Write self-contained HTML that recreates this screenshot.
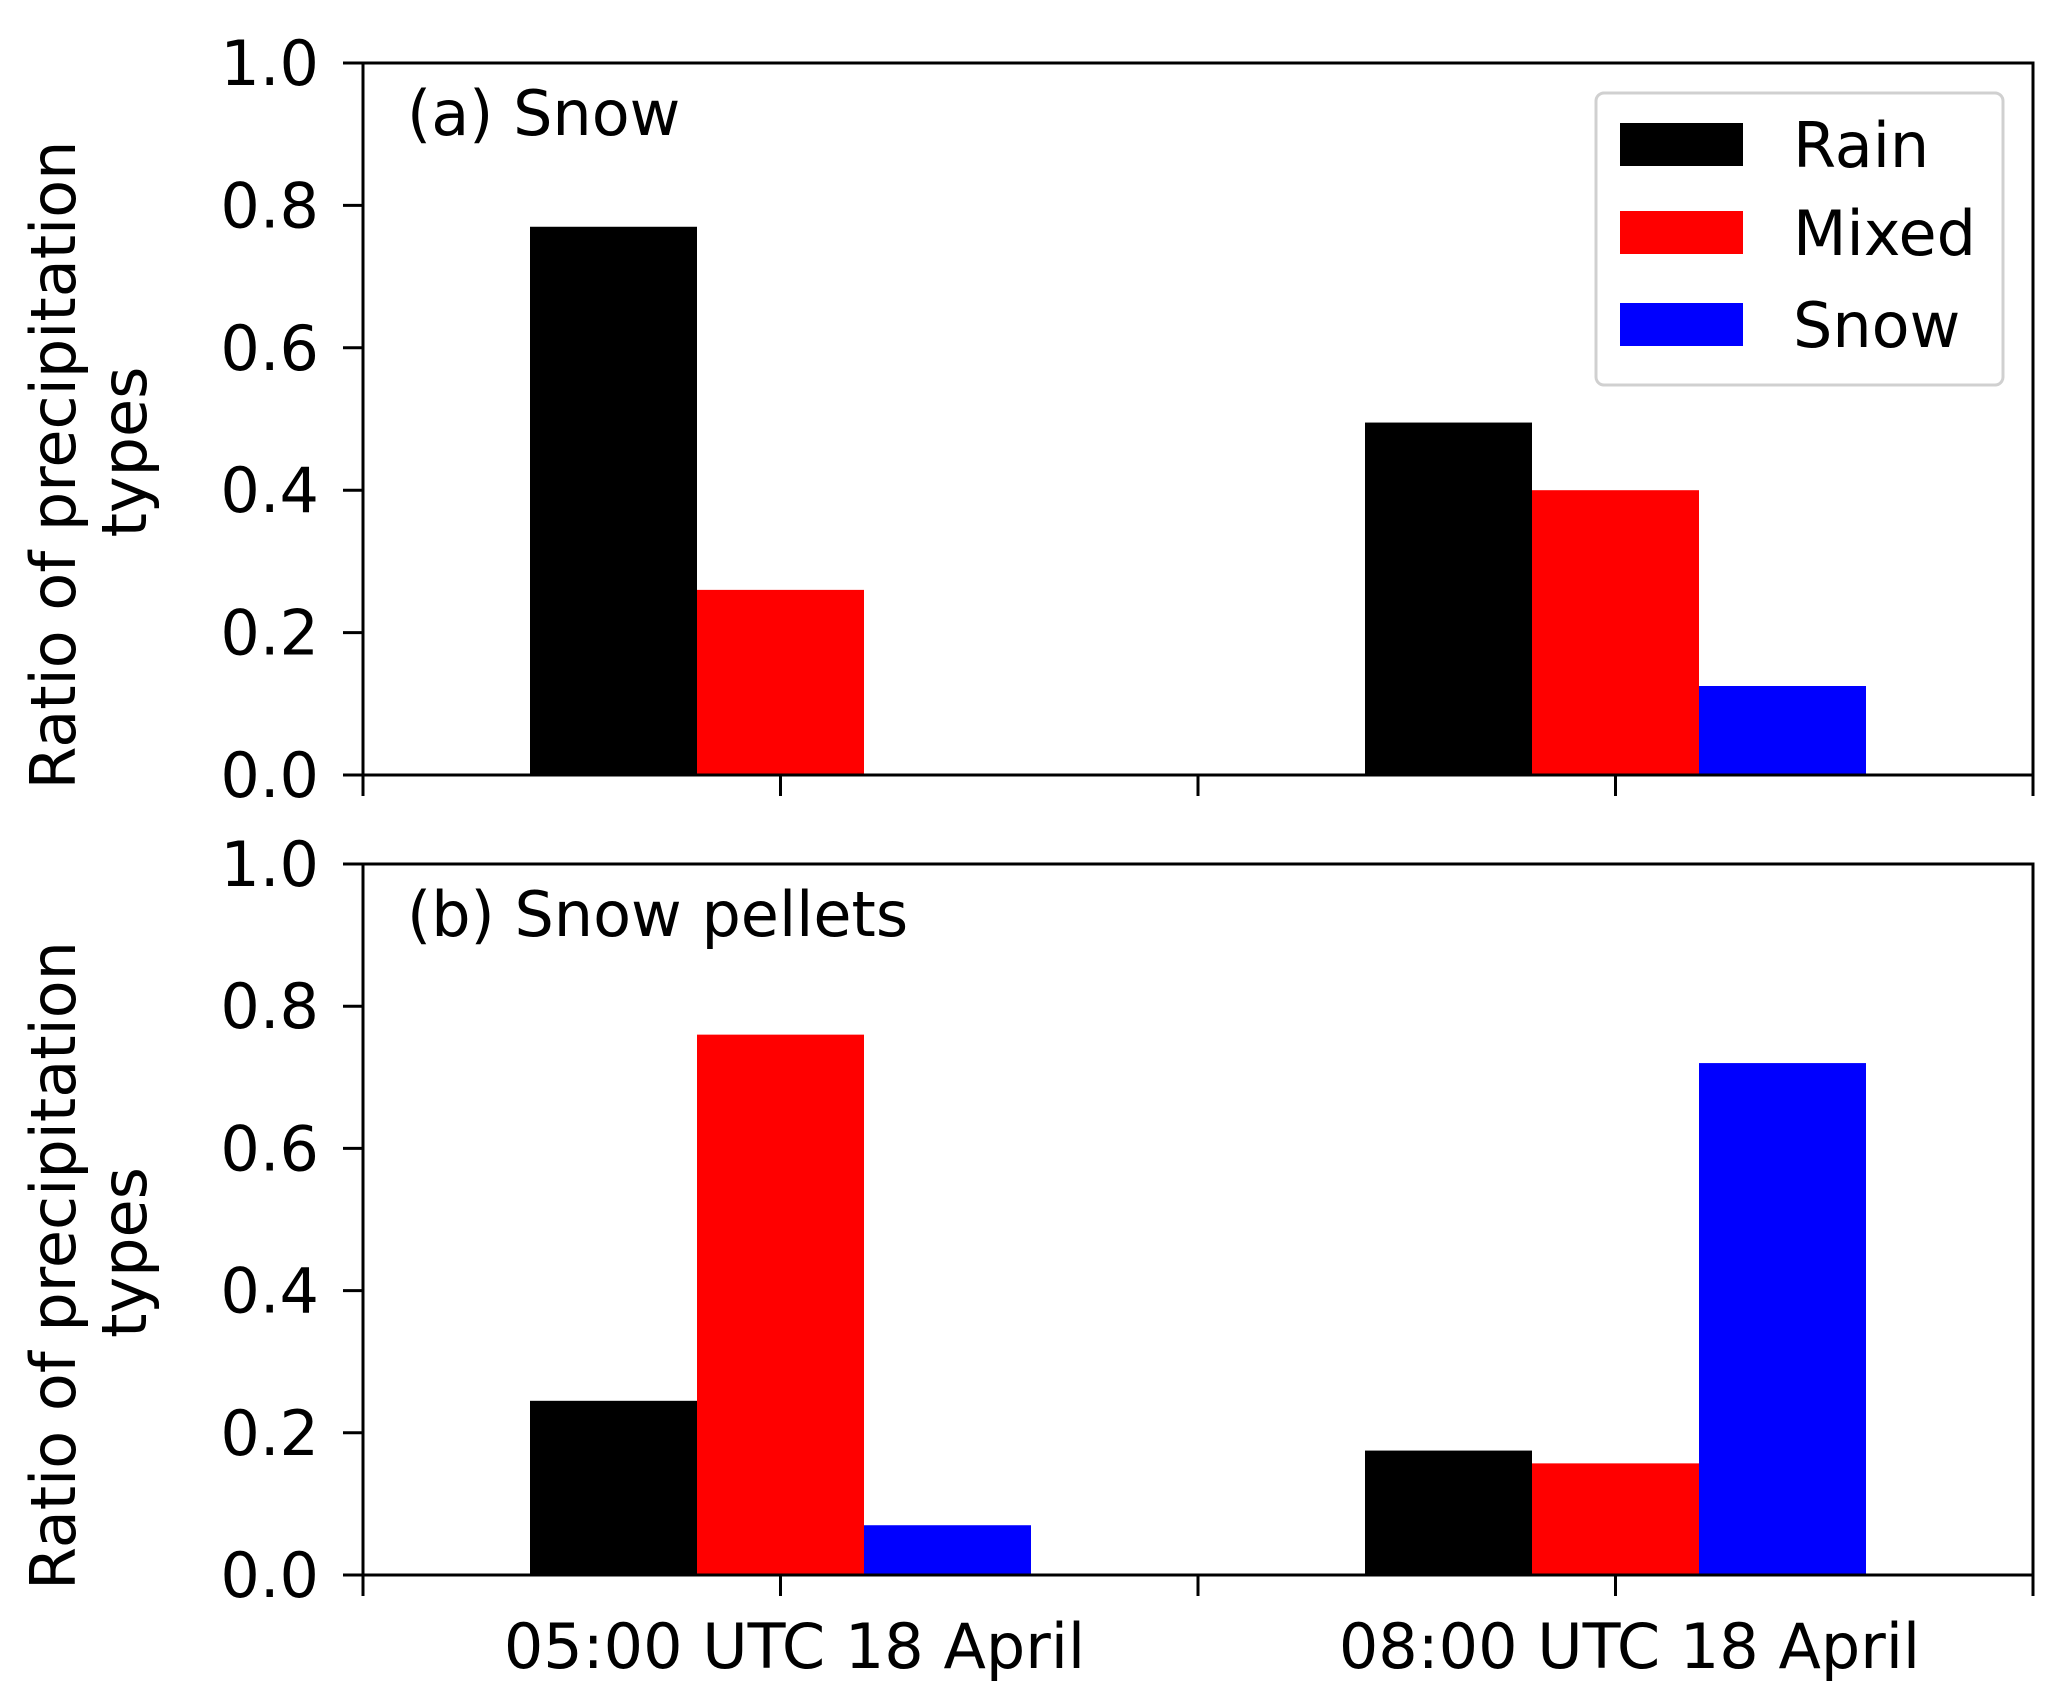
<!DOCTYPE html>
<html><head><meta charset="utf-8"><style>
html,body{margin:0;padding:0;background:#fff}
svg{display:block;font-family:"DejaVu Sans","Liberation Sans",sans-serif}
</style></head><body>
<svg id="chart" width="2067" height="1700" viewBox="0 0 2067 1700" xmlns="http://www.w3.org/2000/svg"></svg>
<script>
const categories = ["05:00 UTC 18 April", "08:00 UTC 18 April"];
const seriesNames = ["Rain", "Mixed", "Snow"];
const seriesColors = ["#000000", "#ff0000", "#0000ff"];
const snowRain = [0.77, 0.495];
const snowMixed = [0.26, 0.40];
const snowSnow = [0.0, 0.125];
const pelletsRain = [0.245, 0.175];
const pelletsMixed = [0.76, 0.157];
const pelletsSnow = [0.07, 0.72];
const yTicks = [0, 0.2, 0.4, 0.6, 0.8, 1.0];
const yTickLabels = ["0.0", "0.2", "0.4", "0.6", "0.8", "1.0"];
const xTicks = [-0.5, 0, 0.5, 1, 1.5];
const panelTitles = ["(a) Snow", "(b) Snow pellets"];

const NS = "http://www.w3.org/2000/svg";
const svg = document.getElementById("chart");
const L = 363, R = 2033;
const FS = 62;
const panels = [{top: 63, bottom: 775}, {top: 864, bottom: 1575}];
const xMin = -0.5, xMax = 1.5, barW = 0.2;
function xs(v){ return L + (v - xMin) / (xMax - xMin) * (R - L); }
function mk(tag, attrs, parent){
  const e = document.createElementNS(NS, tag);
  for (const k in attrs) e.setAttribute(k, attrs[k]);
  (parent || svg).appendChild(e);
  return e;
}
const panelData = [[snowRain, snowMixed, snowSnow], [pelletsRain, pelletsMixed, pelletsSnow]];

panels.forEach((p, pi) => {
  const ys = v => p.bottom - v * (p.bottom - p.top);
  const g = mk("g", {});
  
  
  panelData[pi].forEach((vals, si) => {
    vals.forEach((v, ci) => {
      const x0 = xs(ci + (si - 1) * barW - barW / 2);
      const x1 = xs(ci + (si - 1) * barW + barW / 2);
      const r = mk("rect", {x: x0, y: ys(v), width: x1 - x0, height: ys(0) - ys(v), fill: seriesColors[si]}, g);
      
      
    });
  });
  const fr = mk("rect", {x: L, y: p.top, width: R - L, height: p.bottom - p.top, fill: "none", stroke: "#000", "stroke-width": 3}, g);
  
  
  yTicks.forEach((t, i) => {
    mk("line", {x1: L - 20, x2: L, y1: ys(t), y2: ys(t), stroke: "#000", "stroke-width": 3}, g);
    const tx = mk("text", {x: 319, y: ys(t) + 22, "text-anchor": "end", "font-size": FS, fill: "#000"}, g);
    tx.textContent = yTickLabels[i];
    
    
  });
  xTicks.forEach(t => {
    mk("line", {x1: xs(t), x2: xs(t), y1: p.bottom, y2: p.bottom + 21, stroke: "#000", "stroke-width": 3}, g);
  });
  const ti = mk("text", {x: 407, y: p.top + 72, "font-size": FS, fill: "#000"}, g);
  ti.textContent = panelTitles[pi];
  
  
  const cy = (p.top + p.bottom) / 2 + 46;
  const yl = mk("text", {transform: "translate(75," + cy + ") rotate(-90)", "text-anchor": "middle", "font-size": FS, fill: "#000"}, g);
  yl.textContent = "Ratio of precipitation";
  
  
  const yl2 = mk("text", {transform: "translate(146," + (cy - 13) + ") rotate(-90)", "text-anchor": "middle", "font-size": FS, fill: "#000"}, g);
  yl2.textContent = "types";
  
  
});

categories.forEach((c, i) => {
  const t = mk("text", {x: xs(i) + 14, y: 1668, "text-anchor": "middle", "font-size": FS, fill: "#000"});
  t.textContent = c;
  
  
});

const lg = mk("g", {});


mk("rect", {x: 1596, y: 93, width: 407, height: 292, rx: 8, fill: "#fff", stroke: "#d0d0d0", "stroke-width": 3}, lg);
const legY = [123, 211, 303];
seriesNames.forEach((n, i) => {
  const r = mk("rect", {x: 1620, y: legY[i], width: 123, height: 43, fill: seriesColors[i]}, lg);
  
  
  const t = mk("text", {x: 1793, y: legY[i] + 44, "font-size": FS, fill: "#000"}, lg);
  t.textContent = n;
  
  
});
</script>
</body></html>
